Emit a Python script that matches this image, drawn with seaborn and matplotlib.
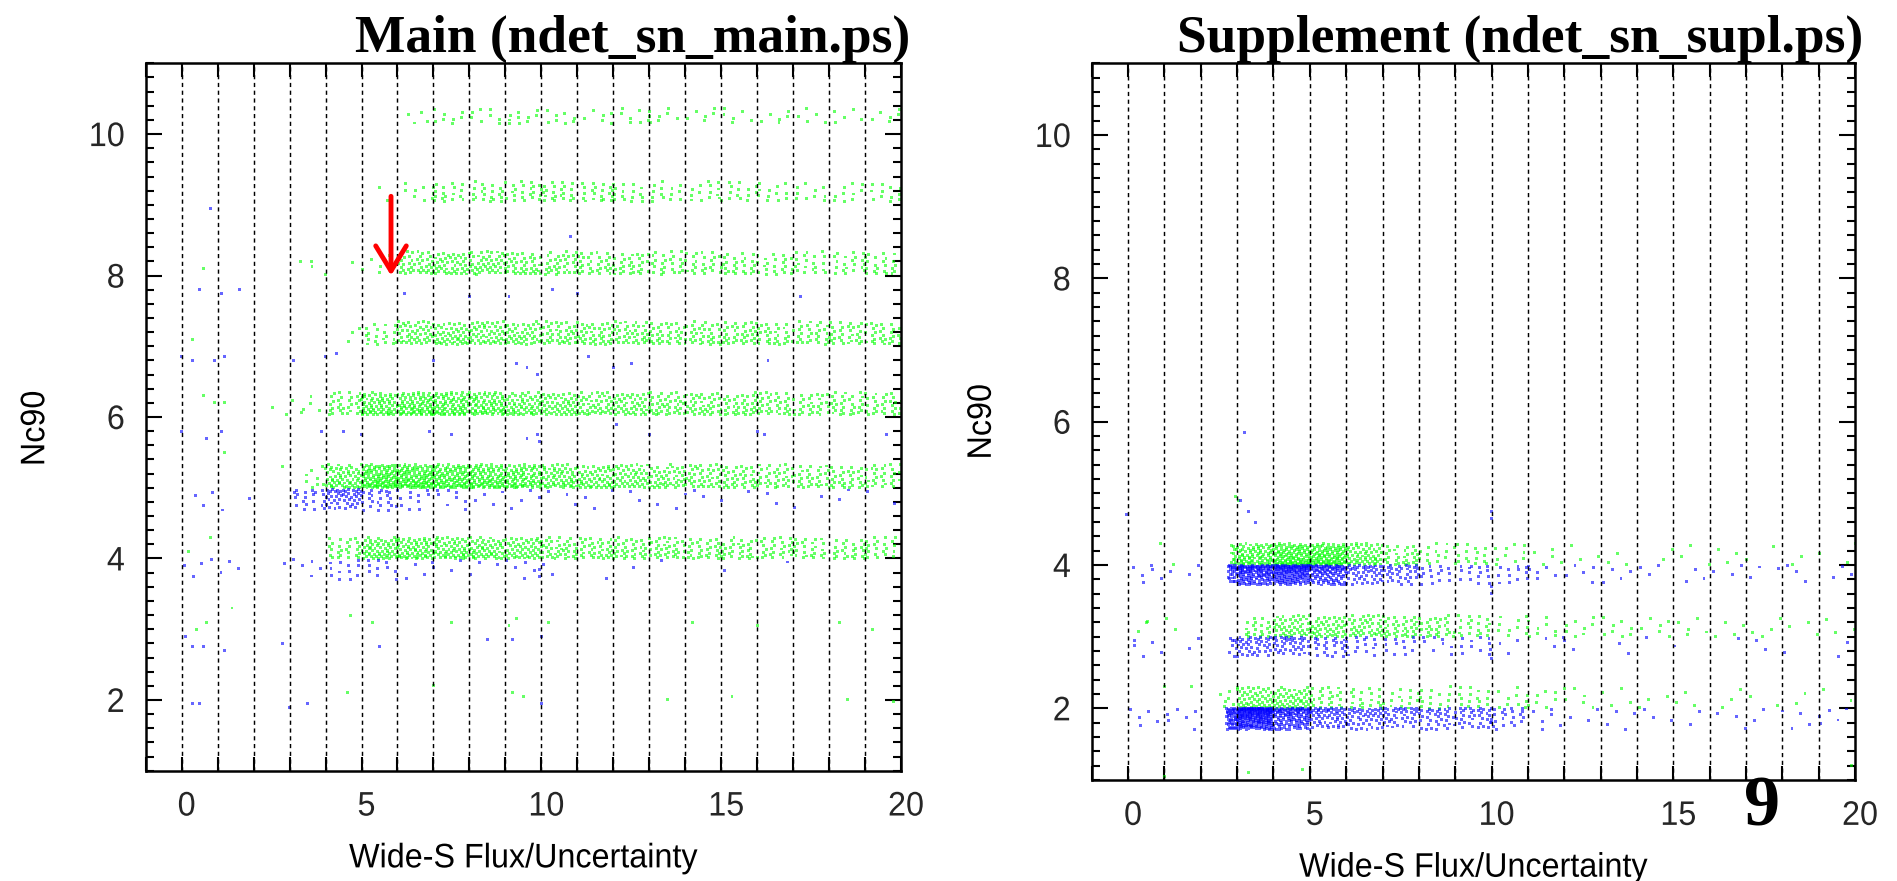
import numpy as np
import pandas as pd
import matplotlib
matplotlib.use("Agg")
import matplotlib.pyplot as plt
import seaborn as sns
from matplotlib.ticker import MultipleLocator, FixedLocator
from matplotlib.patheffects import AbstractPathEffect
from matplotlib.transforms import Affine2D

# ---------------------------------------------------------------- data
# Point counts per unit bin of Wide-S Flux/Uncertainty, bins start at
# x = -1, 0, 1, ..., 19 (21 bins); read off the picture as densities.
BIN_LEFT = list(range(-1, 20))

# Main panel, green bands
main_g10 = [0, 0, 0, 0, 0, 0, 0, 4, 8, 8, 10, 8, 6, 8, 7, 6, 6, 6, 5, 5, 6]
main_g9 = [0, 0, 0, 0, 0, 0, 1, 8, 18, 20, 22, 22, 20, 16, 14, 14, 14, 12, 10, 10, 12]
main_g8 = [0, 0, 0, 0, 1, 2, 5, 40, 45, 45, 40, 35, 30, 30, 25, 25, 25, 22, 20, 20, 22]
main_g7 = [0, 0, 0, 0, 0, 3, 20, 45, 50, 50, 45, 40, 40, 38, 35, 35, 35, 30, 30, 30, 30]
main_g6 = [0, 0, 0, 2, 5, 30, 70, 80, 80, 70, 60, 50, 45, 45, 40, 40, 35, 35, 30, 30, 30]
main_g5 = [0, 0, 0, 0, 8, 60, 110, 110, 100, 90, 80, 60, 55, 50, 45, 40, 35, 35, 32, 30, 30]
main_g4 = [0, 0, 0, 0, 0, 25, 60, 65, 60, 55, 50, 40, 35, 35, 35, 30, 30, 28, 25, 25, 22]
# Main panel, blue bands
main_b5 = [0, 3, 2, 0, 20, 45, 25, 10, 8, 4, 4, 3, 3, 2, 3, 2, 2, 2, 2, 2, 2]
main_b4 = [0, 4, 3, 1, 5, 12, 10, 4, 3, 3, 5, 2, 1, 1, 1, 0, 1, 1, 0, 0, 0]

main_green_levels = [10.15, 9.05, 8.02, 7.03, 6.03, 5.0, 4.0]
main_green_spread = [0.22, 0.28, 0.32, 0.32, 0.32, 0.33, 0.30]
main_green_start = [6.3, 5.5, 3.5, 4.6, 2.5, 3.4, 3.8]
main_blue_levels = [4.97, 3.98]
main_blue_spread = [0.30, 0.28]
main_blue_start = [2.9, -1.0]

# Supplement panel
supl_g4 = [0, 0, 1, 12, 80, 110, 110, 60, 30, 15, 15, 10, 5, 3, 3, 2, 3, 3, 2, 2, 2]
supl_b4 = [0, 6, 3, 25, 130, 150, 100, 45, 35, 15, 15, 12, 6, 5, 4, 3, 3, 3, 3, 3, 3]
supl_g3 = [0, 2, 1, 0, 20, 45, 45, 40, 35, 30, 20, 10, 8, 8, 8, 6, 5, 4, 4, 3, 3]
supl_b3 = [0, 5, 2, 8, 40, 40, 25, 15, 12, 8, 10, 3, 3, 2, 2, 1, 1, 1, 2, 1, 2]
supl_g2 = [0, 0, 1, 6, 50, 50, 25, 18, 15, 15, 15, 10, 8, 5, 4, 3, 3, 3, 2, 2, 2]
supl_b2 = [0, 5, 6, 45, 220, 120, 60, 45, 40, 35, 35, 20, 6, 3, 4, 3, 2, 3, 2, 4, 5]

supl_green_levels = [4.0, 3.0, 2.0]
supl_green_spread = [0.30, 0.30, 0.30]
supl_green_start = [2.85, 3.2, 2.55]
supl_blue_levels = [3.99, 2.99, 2.0]
supl_blue_spread = [0.27, 0.27, 0.30]
supl_blue_start = [2.75, 2.75, 2.7]

# isolated points
main_stray_blue_x = [0.0, 0.3, 0.9, 1.2, 0.5, 1.1, 1.6, 0.8, 3.1, 4.0, 4.3, 7.0, 9.3, 9.6, 9.9,
                     11.3, 12.0, 12.5, 16.3, 6.2, 8.0, 9.1, 10.3, 11.0, 17.2, 10.8, 0.0, 0.7,
                     1.1, 3.9, 4.5, 5.0, 6.9, 7.5, 9.6, 9.9, 12.1, 13.0, 16.0, 16.2, 19.6,
                     0.1, 0.3, 0.6, 1.2, 2.8, 5.5, 8.5, 9.2, 10.0, 0.3, 0.5, 3.5, 3.0, 10.0,
                     9.95, 9.95, 9.95]
main_stray_blue_y = [6.85, 6.8, 6.8, 6.85, 7.8, 7.75, 7.8, 8.95, 6.8, 6.85, 6.9, 6.8, 6.75, 6.7,
                     6.6, 6.85, 6.7, 6.75, 6.8, 7.75, 7.7, 7.7, 7.8, 7.75, 7.7, 8.55, 5.8, 5.7,
                     5.8, 5.8, 5.8, 5.75, 5.8, 5.75, 5.7, 5.75, 5.9, 5.75, 5.8, 5.75, 5.75,
                     2.9, 2.75, 2.75, 2.7, 2.8, 2.75, 2.85, 2.85, 2.9, 1.95, 1.95, 1.95, 1.9, 1.95,
                     3.75, 3.85, 5.65]
main_stray_green_x = [0.3, 0.6, 0.9, 1.2, 3.4, 0.6, 3.3, 3.6, 5.5, 1.2, 0.2, 0.8, 0.4, 0.7, 1.4,
                      5.3, 4.7, 7.5, 9.1, 9.3, 10.2, 14.2, 16.0, 18.3, 19.2, 4.6, 7.0, 9.2, 9.5,
                      13.5, 15.3, 18.5, 19.8, 2.8]
main_stray_green_y = [7.1, 6.3, 6.2, 6.2, 6.1, 8.1, 8.2, 8.2, 9.25, 5.5, 4.1, 4.3, 3.0, 3.1, 3.3,
                      3.1, 3.2, 3.1, 3.05, 3.15, 3.1, 3.1, 3.05, 3.1, 3.0, 2.1, 2.2, 2.1, 2.05,
                      2.0, 2.05, 2.0, 1.98, 5.3]
supl_stray_blue_x = [3.2, 3.1, 3.3, 3.5, 10.0, 10.0, -0.05, 10.0, 10.0, 9.95, 10.0, 10.0, 10.0]
supl_stray_blue_y = [5.85, 4.9, 4.75, 4.6, 4.75, 4.65, 4.7, 3.7, 3.6, 2.75, 2.7, 1.85, 1.8]
supl_stray_green_x = [2.95, 3.05, 0.9, 0.5, 1.3, 1.0, 3.3, 1.0, 4.8, 19.9, 20.0]
supl_stray_green_y = [4.95, 4.9, 4.3, 3.2, 3.1, 2.3, 1.1, 1.05, 1.15, 1.2, 4.3]

arrow_x = 5.82
arrow_tail_y = 9.12
arrow_tip_y = 8.0

x_ticks = [0, 5, 10, 15, 20]
y_ticks = [2, 4, 6, 8, 10]
x_label = "Wide-S Flux/Uncertainty"
y_label = "Nc90"
title_main = "Main (ndet_sn_main.ps)"
title_supl = "Supplement (ndet_sn_supl.ps)"
page_number = "9"

GREEN = "#00ff00"
BLUE = "#0000ff"


# ---------------------------------------------------------------- helpers
def band_points(level, spread, direction, counts, x_start, counter, power):
    """Spread the counted points of each bin evenly (R2 low-discrepancy
    layout) inside the bin and the band height."""
    xs, ys = [], []
    a1, a2 = 0.7548776662466927, 0.5698402909980532
    for k, n in zip(BIN_LEFT, counts):
        lo, hi = float(k), float(min(k + 1, 20))
        if k <= x_start < k + 1:
            lo = x_start
        for _ in range(n):
            counter[0] += 1
            i = counter[0]
            u = (0.5 + i * a1) % 1.0
            v = (0.5 + i * a2) % 1.0
            xs.append(lo + (hi - lo) * u)
            ys.append(level + direction * spread * v ** power)
    return xs, ys


def build_frame(g_counts, g_levels, g_spread, g_start,
                b_counts, b_levels, b_spread, b_start,
                sgx, sgy, sbx, sby):
    counter = [0]
    rows_x, rows_y, rows_k = [], [], []
    for c, lv, sp, st in zip(g_counts, g_levels, g_spread, g_start):
        x, y = band_points(lv, sp, +1, c, st, counter, 1.3)
        rows_x += x; rows_y += y; rows_k += ["green"] * len(x)
    for c, lv, sp, st in zip(b_counts, b_levels, b_spread, b_start):
        x, y = band_points(lv, sp, -1, c, st, counter, 1.5)
        rows_x += x; rows_y += y; rows_k += ["blue"] * len(x)
    rows_x += sgx; rows_y += sgy; rows_k += ["green"] * len(sgx)
    rows_x += sbx; rows_y += sby; rows_k += ["blue"] * len(sbx)
    return pd.DataFrame({"x": rows_x, "y": rows_y, "kind": rows_k})


class Narrow(AbstractPathEffect):
    """Draw text narrower along its own direction and optionally shifted."""

    def __init__(self, sx=1.0, anchor="center", dx=0.0):
        super().__init__()
        self.sx, self.anchor, self.dx = sx, anchor, dx

    def draw_path(self, renderer, gc, tpath, affine, rgbFace=None):
        ext = tpath.get_extents()
        if self.anchor == "center":
            a = 0.5 * (ext.x0 + ext.x1)
        elif self.anchor == "right":
            a = ext.x1
        else:
            a = ext.x0
        pre = Affine2D().translate(-a, 0).scale(self.sx, 1).translate(a, 0)
        post = Affine2D().translate(self.dx, 0)
        renderer.draw_path(gc, tpath, pre + affine + post, rgbFace)


df_main = build_frame(
    [main_g10, main_g9, main_g8, main_g7, main_g6, main_g5, main_g4],
    main_green_levels, main_green_spread, main_green_start,
    [main_b5, main_b4], main_blue_levels, main_blue_spread, main_blue_start,
    main_stray_green_x, main_stray_green_y, main_stray_blue_x, main_stray_blue_y)

df_supl = build_frame(
    [supl_g4, supl_g3, supl_g2],
    supl_green_levels, supl_green_spread, supl_green_start,
    [supl_b4, supl_b3, supl_b2], supl_blue_levels, supl_blue_spread, supl_blue_start,
    supl_stray_green_x, supl_stray_green_y, supl_stray_blue_x, supl_stray_blue_y)

# ---------------------------------------------------------------- figure
sns.set_theme(style="white")
plt.rcParams["font.family"] = ["Liberation Sans", "DejaVu Sans"]
plt.rcParams["lines.scale_dashes"] = False

fig = plt.figure(figsize=(18.97, 8.81), dpi=100)
ax1 = fig.add_axes([0.0768, 0.1252, 0.3982, 0.8029])
ax2 = fig.add_axes([0.5755, 0.1146, 0.4024, 0.8135])

TICK_FS = 24.5
SX = 0.95


def style_axes(ax, df, ylab_xy):
    sns.scatterplot(data=df, x="x", y="y", hue="kind",
                    palette={"green": GREEN, "blue": BLUE},
                    marker="s", s=4.5, linewidth=0, alpha=0.6,
                    legend=False, ax=ax, zorder=1)
    for k in range(0, 20):
        ax.axvline(k, color="black", lw=1.05, linestyle=(0, (3.0, 2.6)), zorder=2)
    ax.set_xlim(-1, 20)
    ax.set_ylim(1, 11)
    ax.xaxis.set_major_locator(FixedLocator(x_ticks))
    ax.xaxis.set_minor_locator(MultipleLocator(1))
    ax.yaxis.set_major_locator(FixedLocator(y_ticks))
    ax.yaxis.set_minor_locator(MultipleLocator(0.2))
    ax.tick_params(axis="x", which="both", direction="in", top=True, bottom=True,
                   length=10, width=1.5, color="black")
    ax.tick_params(axis="x", which="major", labelsize=TICK_FS, pad=15)
    ax.tick_params(axis="y", which="major", direction="in", left=True, right=True,
                   length=11.5, width=1.5, labelsize=TICK_FS, pad=15, color="black")
    ax.tick_params(axis="y", which="minor", direction="in", left=True, right=True,
                   length=5.5, width=1.5, color="black")
    for sp in ax.spines.values():
        sp.set_color("black")
        sp.set_linewidth(1.8)
        sp.set_zorder(4)
    ax.set_xlabel(x_label, fontsize=TICK_FS, labelpad=15, color="black")
    ax.set_ylabel(y_label, fontsize=TICK_FS, color="black")
    ax.yaxis.set_label_coords(*ylab_xy)
    ax.xaxis.label.set_path_effects([Narrow(SX, "center")])
    ax.yaxis.label.set_path_effects([Narrow(SX, "center")])
    for t in ax.xaxis.get_major_ticks():
        t.label1.set_path_effects([Narrow(SX, "center", dx=5)])
    for t in ax.yaxis.get_major_ticks():
        t.label1.set_path_effects([Narrow(SX, "right")])
    ax.set_facecolor("white")


style_axes(ax1, df_main, (-0.125, 0.484))
style_axes(ax2, df_supl, (-0.123, 0.50))

ax1.annotate("", xy=(arrow_x, arrow_tip_y), xytext=(arrow_x, arrow_tail_y),
             arrowprops=dict(arrowstyle="->,head_length=0.9,head_width=0.55",
                             color="red", lw=3.5, mutation_scale=20,
                             shrinkA=0, shrinkB=0),
             zorder=6)

fig.text(910 / 1897, 1 - 52 / 881, title_main, ha="right", va="baseline",
         family="Liberation Serif", weight="bold", size=38.5, color="black")
fig.text(1863 / 1897, 1 - 52 / 881, title_supl, ha="right", va="baseline",
         family="Liberation Serif", weight="bold", size=38.5, color="black")
fig.text(1762 / 1897, 1 - 808 / 881, page_number, ha="center", va="center",
         family="Liberation Serif", weight="bold", size=52, color="black")

fig.savefig("out.png", dpi=100, facecolor="white")
